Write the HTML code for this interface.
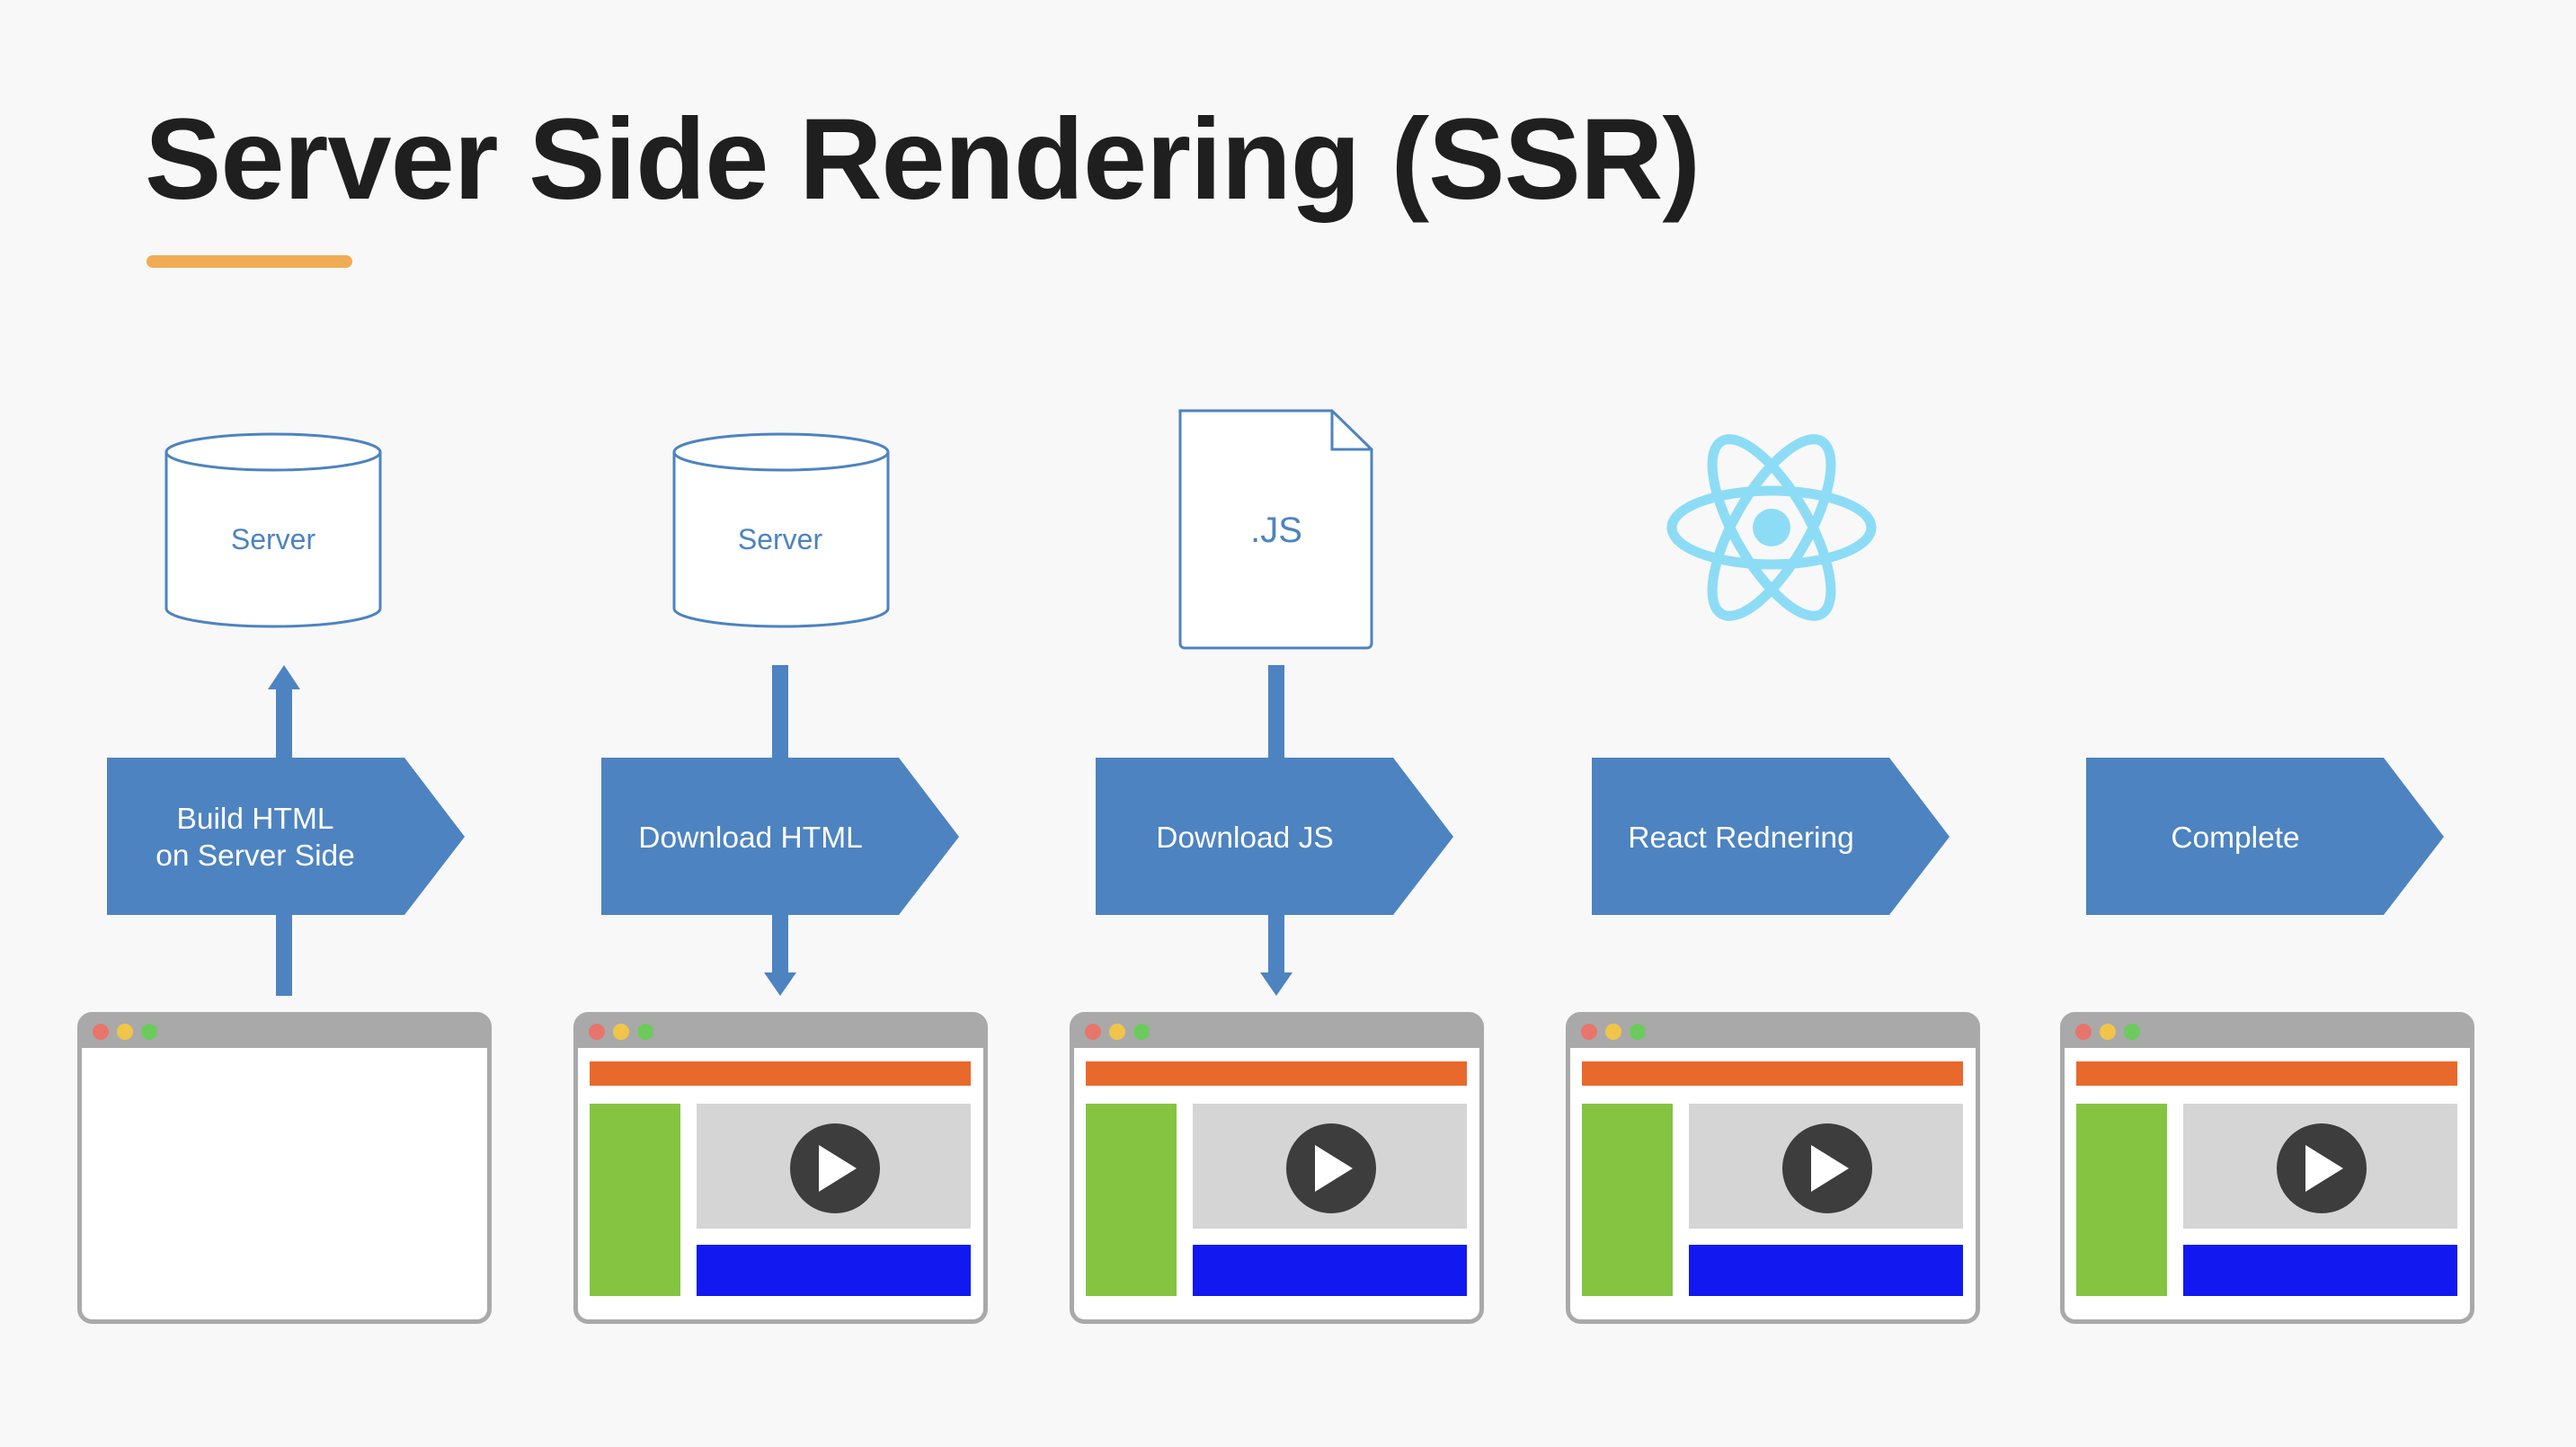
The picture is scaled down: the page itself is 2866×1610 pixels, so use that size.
<!DOCTYPE html>
<html><head><meta charset="utf-8"><style>
html,body{margin:0;padding:0;background:#f8f8f8;}
body{width:2866px;height:1610px;overflow:hidden;position:relative;font-family:"Liberation Sans",Arial,sans-serif;}
h1{position:absolute;left:161px;top:114px;margin:0;font-size:128px;font-weight:bold;color:#1f1f1f;letter-spacing:-1px;line-height:1;}
</style></head><body>
<h1>Server Side Rendering (SSR)</h1>
<svg width="2866" height="1610" style="position:absolute;left:0;top:0" xmlns="http://www.w3.org/2000/svg">
<defs>
<g id="br">
<rect x="2.5" y="2.5" width="456" height="342" rx="14" fill="#fff" stroke="#a9a9a9" stroke-width="5"/>
<path d="M2.5 40 V16 a14 14 0 0 1 14 -14 H444 a14 14 0 0 1 14 14 V40 Z" fill="#a9a9a9"/>
<circle cx="26" cy="22" r="9" fill="#e8756b"/><circle cx="53" cy="22" r="9" fill="#f1c54a"/><circle cx="80" cy="22" r="9" fill="#6ccb5c"/>
</g>
<g id="bc">
<use href="#br"/>
<rect x="18" y="55" width="424" height="27" fill="#e8692c"/>
<rect x="18" y="102" width="101" height="214" fill="#84c441"/>
<rect x="137" y="102" width="305" height="139" fill="#d5d5d5"/>
<rect x="137" y="259" width="305" height="57" fill="#1119f0"/>
<circle cx="291" cy="174" r="50" fill="#3d3d3d"/>
<path d="M273 148 L315 174 L273 200 Z" fill="#fff"/>
</g>
<path id="pt" d="M0 0 H331 L398 88 L331 175 H0 Z" fill="#4d83c0"/>
<g id="cyl">
<path d="M0 20 V194 A119 20 0 0 0 238 194 V20" fill="#fff" stroke="#4d83c0" stroke-width="3"/>
<ellipse cx="119" cy="20" rx="119" ry="20" fill="#fff" stroke="#4d83c0" stroke-width="3"/>
</g>
</defs>
<rect x="163" y="284" width="229" height="14" rx="7" fill="#f0ac55"/>
<g fill="#4d83c0" font-family="Liberation Sans, Arial, sans-serif" font-size="32" text-anchor="middle">
<use href="#cyl" x="185" y="483"/><text x="304" y="611">Server</text>
<use href="#cyl" x="750" y="483"/><text x="868" y="611">Server</text>
<path d="M1313 457 H1482 L1526 500 V716 a5 5 0 0 1 -5 5 H1318 a5 5 0 0 1 -5 -5 Z" fill="#fff" stroke="#4d83c0" stroke-width="3"/>
<path d="M1482 457 V500 H1526" fill="none" stroke="#4d83c0" stroke-width="3"/>
<text x="1420" y="603" font-size="40">.JS</text>
</g>
<g fill="none" stroke="#8ddcf6" stroke-width="11">
<ellipse cx="1971" cy="587" rx="111" ry="41"/>
<ellipse cx="1971" cy="587" rx="111" ry="41" transform="rotate(60 1971 587)"/>
<ellipse cx="1971" cy="587" rx="111" ry="41" transform="rotate(-60 1971 587)"/>
</g>
<circle cx="1971" cy="587" r="21" fill="#8ddcf6"/>
<g fill="#4d83c0">
<rect x="307" y="765" width="18" height="80"/><path d="M298 767 L316 740 L334 767 Z"/>
<rect x="307" y="1016" width="18" height="92"/>
<rect x="859" y="740" width="18" height="105"/>
<rect x="859" y="1016" width="18" height="68"/><path d="M850 1082 L868 1108 L886 1082 Z"/>
<rect x="1411" y="740" width="18" height="105"/>
<rect x="1411" y="1016" width="18" height="68"/><path d="M1402 1082 L1420 1108 L1438 1082 Z"/>
</g>
<use href="#pt" x="119" y="843"/><use href="#pt" x="669" y="843"/><use href="#pt" x="1219" y="843"/><use href="#pt" x="1771" y="843"/><use href="#pt" x="2321" y="843"/>
<g fill="#fff" font-family="Liberation Sans, Arial, sans-serif" font-size="33.5" text-anchor="middle">
<text x="284" y="922">Build HTML</text><text x="284" y="963">on Server Side</text>
<text x="835" y="943">Download HTML</text>
<text x="1385" y="943">Download JS</text>
<text x="1937" y="943">React Rednering</text>
<text x="2487" y="943">Complete</text>
</g>
<use href="#br" x="86" y="1126"/>
<use href="#bc" x="638" y="1126"/>
<use href="#bc" x="1190" y="1126"/>
<use href="#bc" x="1742" y="1126"/>
<use href="#bc" x="2292" y="1126"/>
</svg>
</body></html>
